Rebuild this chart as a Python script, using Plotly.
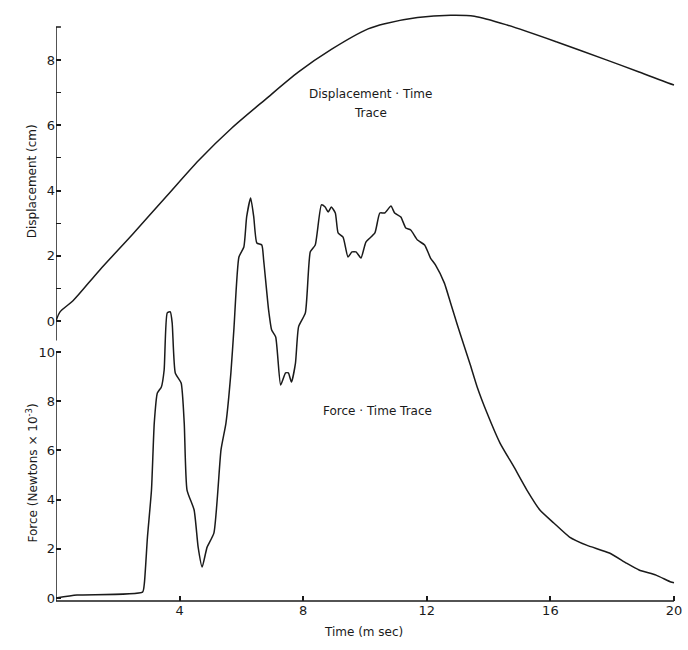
import plotly.graph_objects as go

# Displacement-time trace (time in ms, displacement in cm)
disp_time = [0.0, 0.13, 0.55, 1.41, 2.48, 3.57, 4.63, 5.69, 6.78, 7.85, 8.91,
             10.10, 10.64, 11.70, 12.77, 13.54, 14.60, 16.21, 17.81, 18.87, 19.81, 20.0]
disp_cm = [0.0, 0.28, 0.62, 1.56, 2.66, 3.82, 4.94, 5.92, 6.80, 7.64, 8.33,
           8.96, 9.12, 9.31, 9.38, 9.35, 9.08, 8.56, 8.01, 7.64, 7.30, 7.24]

# Force-time trace (time in ms, force in Newtons x 10^-3)
force_time = [0.0, 0.68, 2.80, 2.86, 2.96, 3.09, 3.18, 3.28, 3.41, 3.50, 3.60, 3.70,
              3.76, 3.86, 4.05, 4.15, 4.24, 4.47, 4.60, 4.73, 4.89, 5.11, 5.34, 5.50,
              5.66, 5.76, 5.92, 6.08, 6.17, 6.30, 6.40, 6.50, 6.66, 6.72, 6.88, 6.98,
              7.11, 7.27, 7.43, 7.52, 7.62, 7.75, 7.85, 8.07, 8.23, 8.39, 8.59, 8.71,
              8.81, 8.91, 9.04, 9.13, 9.29, 9.45, 9.58, 9.71, 9.87, 10.03, 10.32, 10.48,
              10.64, 10.84, 10.96, 11.16, 11.32, 11.48, 11.70, 11.93, 12.12, 12.28, 12.57,
              12.77, 12.99, 13.22, 13.41, 13.63, 13.95, 14.37, 14.82, 15.24, 15.66, 16.11,
              16.62, 17.17, 17.91, 18.46, 18.87, 19.42, 19.90, 20.0]
force_kn = [0.0, 0.12, 0.24, 0.61, 2.48, 4.39, 7.11, 8.33, 8.58, 9.27, 11.59, 11.63,
            11.18, 9.15, 8.74, 7.11, 4.39, 3.58, 2.07, 1.26, 2.07, 2.64, 6.02, 7.11,
            9.15, 10.98, 13.86, 14.27, 15.49, 16.26, 15.49, 14.43, 14.35, 13.74, 11.71, 10.89,
            10.61, 8.66, 9.15, 9.15, 8.78, 9.55, 11.02, 11.59, 14.07, 14.35, 15.98, 15.89,
            15.69, 15.89, 15.65, 14.84, 14.67, 13.86, 14.07, 14.07, 13.82, 14.47, 14.84, 15.65,
            15.65, 15.93, 15.65, 15.49, 15.04, 14.96, 14.55, 14.35, 13.82, 13.54, 12.80,
            11.99, 11.10, 10.20, 9.47, 8.58, 7.52, 6.30, 5.33, 4.39, 3.58, 3.05,
            2.48, 2.15, 1.83, 1.42, 1.14, 0.93, 0.65, 0.62]

time_ticks = [4, 8, 12, 16, 20]
disp_ticks = [0, 2, 4, 6, 8]
disp_minor = [1, 3, 5, 7]
force_ticks = [0, 2, 4, 6, 8, 10]

INK = "#1a1a1a"
FONT = "DejaVu Sans"

fig = go.Figure()
fig.add_trace(go.Scatter(x=disp_time, y=disp_cm, mode="lines", yaxis="y",
                         line=dict(color=INK, width=1.5, shape="spline", smoothing=0.8),
                         hoverinfo="skip"))
fig.add_trace(go.Scatter(x=force_time, y=force_kn, mode="lines", yaxis="y2",
                         line=dict(color=INK, width=1.5, shape="spline", smoothing=0.5),
                         hoverinfo="skip"))

# Axis lines drawn as separate segments so each scale only covers its own span
shapes = [
    dict(type="path", xref="x", yref="y", path="M 0.16 9.02 L 0 9.02 L 0 -0.6",
         line=dict(color=INK, width=1.5)),
    dict(type="path", xref="x", yref="y2", path="M 0.16 10 L 0 10 L 0 -0.5",
         line=dict(color=INK, width=1.5)),
    dict(type="line", xref="x", yref="paper", x0=0, x1=20, y0=0, y1=0,
         line=dict(color=INK, width=1.5)),
]

annotations = [
    dict(text="Displacement (cm)", xref="paper", yref="y", x=-0.054, y=4.3,
         textangle=-90, showarrow=False, font=dict(family=FONT, size=12, color=INK)),
    dict(text="Force (Newtons × 10<sup>-3</sup>)", xref="paper", yref="y2", x=-0.054, y=5.08,
         textangle=-90, showarrow=False, font=dict(family=FONT, size=12, color=INK)),
    dict(text="Time (m sec)", xref="x", yref="paper", x=9.94, y=-0.068,
         showarrow=False, font=dict(family=FONT, size=12, color=INK)),
    dict(text="Displacement · Time", xref="x", yref="y", x=10.19, y=6.96,
         showarrow=False, font=dict(family=FONT, size=12, color=INK)),
    dict(text="Trace", xref="x", yref="y", x=10.19, y=6.38,
         showarrow=False, font=dict(family=FONT, size=12, color=INK)),
    dict(text="Force · Time Trace", xref="x", yref="y2", x=10.42, y=7.6,
         showarrow=False, font=dict(family=FONT, size=12, color=INK)),
]

fig.update_layout(
    width=688, height=650,
    margin=dict(l=56, r=6, t=10, b=49),
    paper_bgcolor="white", plot_bgcolor="white",
    showlegend=False,
    font=dict(family=FONT, size=13, color=INK),
    xaxis=dict(range=[0, 20.13], tickvals=time_ticks, ticks="inside", ticklen=5,
               tickwidth=1.5, tickcolor=INK, showgrid=False, zeroline=False,
               showline=False, tickfont=dict(size=13)),
    yaxis=dict(range=[-8.59, 9.54], tickvals=disp_ticks, ticks="inside", ticklen=5,
               tickwidth=1.5, tickcolor=INK, showgrid=False, zeroline=False,
               showline=False, tickfont=dict(size=13),
               minor=dict(tickvals=disp_minor, ticks="inside", ticklen=5,
                          tickwidth=1.2, tickcolor=INK, showgrid=False)),
    yaxis2=dict(range=[-0.12, 23.9], tickvals=force_ticks, ticks="inside", ticklen=5,
                tickwidth=1.5, tickcolor=INK, showgrid=False, zeroline=False,
                showline=False, overlaying="y", side="left", anchor="x",
                tickfont=dict(size=13)),
    shapes=shapes,
    annotations=annotations,
)

fig.write_html("out.html")
